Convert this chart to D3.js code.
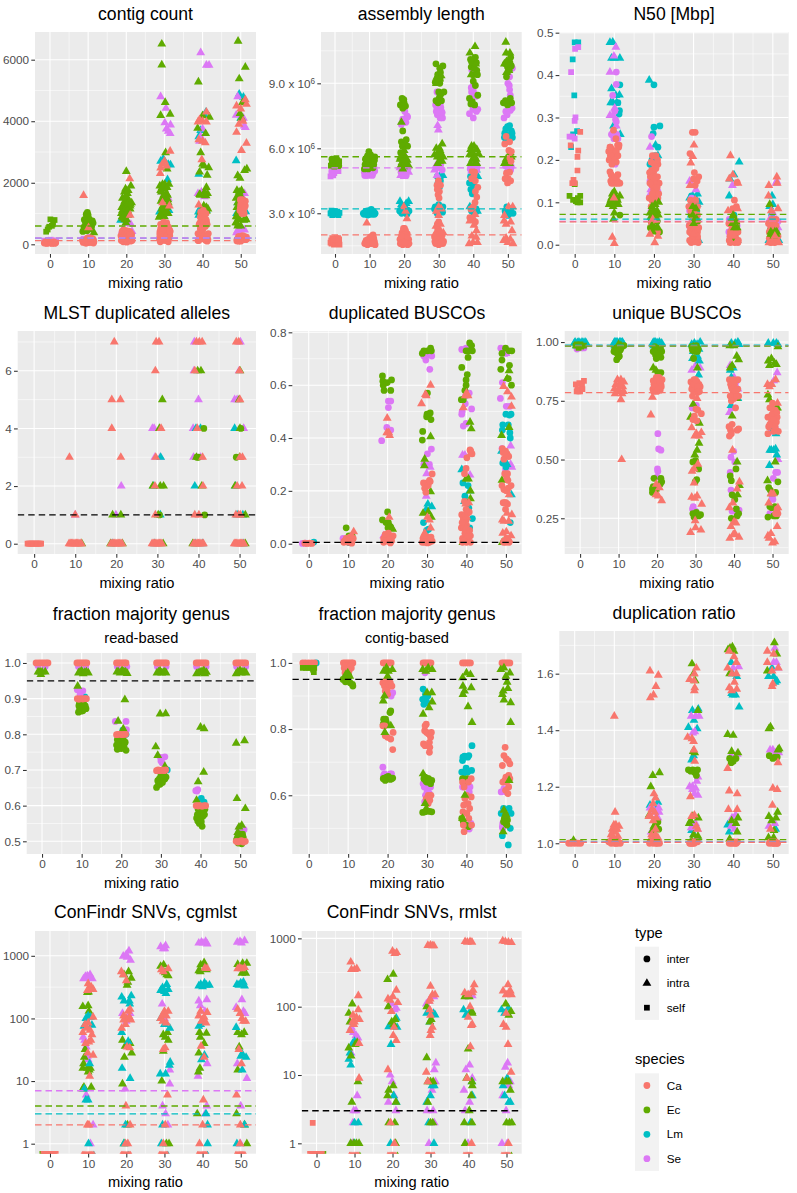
<!DOCTYPE html>
<html><head><meta charset="utf-8">
<script src="https://cdn.jsdelivr.net/npm/d3@7"></script>
<style>html,body{margin:0;padding:0;background:#fff}svg{display:block}</style>
</head><body><svg id="c" width="797" height="1193"></svg>
<script>
const species=["Ca","Ec","Lm","Se"];
const types=["inter","intra","self"];
const mixingTicks=[0,10,20,30,40,50];
const speciesColor={Ca:"#F8766D",Ec:"#5FAB00",Lm:"#00BFC4",Se:"#DC78F5"};

// ---- contig count
const contig_Lm_intra=[[18.5,780],[21,300],[20,200],[29,2700],[29.7,2780],[31,2600],[31.6,2580],[30.8,2100],[28.7,1050],[30.2,1000],[31.2,1100],[29,250],[39,2280],[38.9,1050],[39.3,1150],[40.9,4300],[40.5,4200],[39,3500],[39.5,3700],[41,1100],[39,950],[48.8,2720],[49.6,4880],[50.7,4780],[48.9,1000],[49.2,1350],[51.3,1060],[50,4100]];
const contig_Se_intra=[[29,4800],[30.4,4420],[30.1,3950],[31.6,3880],[30.5,3750],[31,3680],[31.5,3600],[29.5,1700],[31,1500],[30,1200],[29.2,200],[39.5,6230],[41,5820],[41.7,5820],[40,3750],[39.5,3500],[39.2,3350],[38.8,1650],[39.7,1700],[40.5,1550],[39.2,180],[41,250],[48.8,4200],[49.2,4800],[50.7,4100],[50.9,3850],[51.2,3800],[51,1650],[50.4,1550],[49.2,450],[50.2,480],[51,470],[48.9,380],[21.2,650],[20.5,680],[19,450],[21.5,420]];
const contig_Se_self=[[-1.5,120],[-0.9,100],[-0.5,140],[0.2,150],[0.8,130],[1.6,90],[-1.2,50],[1.2,60],[8.8,180],[10.5,240],[11.5,100]];
const contig_Ec_self=[[-1,410],[-0.2,570],[0.1,810],[1.2,790],[0.5,600],[-0.6,480],[0.8,650]];
const contig_Ec_inter=[[8.6,420],[8.9,560],[9.3,700],[9.6,880],[9.8,1040],[9,800],[9.4,600],[10,950],[10.3,820],[10.5,700],[10.8,620],[11.1,760],[11.3,690],[10.6,500],[9.9,720],[9.1,480],[9.7,440],[10.9,580],[9.5,980],[10.2,640]];
const contig_Ec_intra=[[11.5,380],[20,2370],[21.2,1900],[19.8,1800],[19.5,1700],[20.3,1650],[19,1500],[20.5,1400],[21.4,1350],[19.4,1300],[20,1250],[18.8,1200],[21,1150],[19.7,1100],[19.2,1000],[20.4,950],[18.9,900],[19.6,800],[20.2,1500],[19.9,700],[21,1250],[29.3,6510],[29.3,5830],[30.2,4610],[29,4190],[31.5,4230],[30.3,2980],[30.7,2450],[28.8,1900],[29.5,1950],[30,1800],[29.2,1700],[30.5,1650],[31.2,1950],[30.8,1600],[29.5,1500],[31,1350],[30.6,1200],[29.2,1000],[28.6,880],[30,900],[31,1000],[38.9,5280],[38.7,3770],[40.8,3600],[39.5,2980],[40,2600],[40.4,2550],[41.6,2490],[39.2,2350],[41.2,2250],[41,1850],[39.2,1620],[40.5,1700],[41.3,1650],[40.9,1580],[41.4,1150],[40.3,1250],[39.5,1050],[41,1080],[40,4180],[41.8,4130],[39.8,600],[49.3,6600],[49.6,5380],[51.2,5760],[50.4,4600],[49.8,4250],[50.2,4100],[51.6,2450],[51,2400],[49.2,2230],[49.8,2150],[49,1750],[50.2,1750],[49.4,1550],[50,1450],[48.8,900],[49.5,850],[48.7,700],[51.4,800],[50.8,780],[49.2,600]];
const contig_Ec_more=[[18.7,1000],[19,1100],[19.3,1250],[19.6,1400],[19.9,1550],[20.2,1300],[20.5,1750],[20.8,1400],[21.1,1300],[19.1,850],[19.5,950],[19.9,1150],[20.3,1100],[20.1,800],[29,1750],[29.4,1850],[29.8,1600],[30.1,1950],[30.4,1450],[30.7,1850],[29.1,1400],[29.6,1250],[30,1100],[30.4,1050],[30.9,1450],[29.3,1150],[28.9,950],[40.5,1200],[39.9,1100],[40.1,1000],[40.7,1600],[41,1200],[39.4,1600],[48.8,1500],[49.2,1350],[49.6,1700],[49,1200],[49.3,1050],[49.6,800],[48.9,700],[49.2,900],[49.6,1600],[50.1,1550],[50,600],[51.2,850]];
const contig_Ca_intra=[[8.8,1590],[10.1,540],[20.9,2130],[21,950],[31.5,3030],[30,2700],[29.4,2600],[29,2480],[30.6,2550],[28.9,2300],[31.3,1250],[29.5,1350],[41,4300],[39.2,4050],[40,4000],[38.8,3980],[41,3980],[39,3400],[40,3350],[40.7,3300],[39.8,2750],[39,1280],[50,4400],[48.9,4500],[51.2,4700],[51.5,4550],[49.5,3900],[48.9,3640],[50.2,3050],[51.5,3290],[50.6,4000]];
const contig_Ca_inter=[[-1.3,60],[-0.8,30],[-0.3,70],[0.2,40],[0.7,60],[1.2,30],[0,90],[-1,90],[8.7,60],[9.1,130],[9.4,70],[9.8,200],[10.1,110],[10.4,60],[10.8,130],[11.1,60],[11.5,90],[9.6,40],[10.6,210],[11.3,170],[18.7,120],[19,300],[19.3,470],[19.6,100],[19.9,230],[20.2,380],[20.5,130],[20.8,250],[21.1,100],[21.4,320],[19.2,180],[20.1,70],[20.6,430],[21.3,180],[28.9,80],[29.2,300],[29.5,560],[29.8,720],[30.1,180],[30.4,420],[30.7,620],[31,80],[31.3,350],[29,500],[29.6,130],[30.2,680],[30.6,230],[31.4,450],[28.8,400],[29.9,350],[38.8,120],[39.1,300],[39.4,500],[39.7,780],[40,180],[40.3,900],[40.6,650],[40.9,1000],[41.2,100],[41.5,350],[39.3,700],[40.1,520],[40.5,830],[40.8,250],[39.8,950],[41,750],[49,150],[49.4,250],[50,100],[50.3,1000],[50.6,1150],[50.9,1300],[50.1,1400],[50.5,1450],[51.2,1250],[50.2,1250],[49.9,1200],[50.8,1050],[51,190],[51.5,230],[50.5,280],[49.6,120]];
const contig_Ca_more=[[-1,40],[-.5,50],[.5,30],[1,80],[1.5,50],[-1.5,40],[8.9,90],[9.3,40],[9.7,120],[10,60],[10.3,170],[10.7,90],[11,190],[11.4,40],[8.5,130],[18.6,280],[18.9,420],[19.2,80],[19.5,350],[19.8,450],[20.1,300],[20.4,420],[20.7,180],[21,400],[21.3,260],[19,220],[19.7,180],[20.3,230],[20.9,320],[21.5,120],[28.7,200],[29,650],[29.3,420],[29.6,300],[29.9,550],[30.2,420],[30.5,320],[30.8,480],[31.1,550],[31.4,280],[29.1,180],[29.4,620],[29.7,470],[30,250],[30.3,120],[30.6,700],[31.2,200],[31.5,420],[28.8,320],[38.8,350],[39.1,650],[39.4,880],[39.7,600],[40,850],[40.3,700],[40.6,980],[40.9,800],[41.2,650],[39.3,200],[39.6,380],[40,450],[40.4,280],[40.8,130],[41.2,260],[39,120],[39.5,1050],[40.2,1100],[40.7,580],[41.4,150],[49.8,1100],[50,1300],[50.3,1350],[50.6,1250],[50.9,1000],[51.2,1400],[49.9,1450],[50.4,1100],[51,1200],[49.2,180],[49.7,250],[50.1,210],[50.5,170],[50.9,260],[51.3,150],[49,110],[50,130],[51.5,170],[49.4,100]];
const contigLayers=[["Lm","intra",contig_Lm_intra],["Se","intra",contig_Se_intra],["Se","self",contig_Se_self],["Ec","self",contig_Ec_self],["Ec","inter",contig_Ec_inter],["Ec","intra",contig_Ec_intra],["Ec","intra",contig_Ec_more],["Ca","inter",contig_Ca_inter],["Ca","inter",contig_Ca_more],["Ca","intra",contig_Ca_intra]];
const contigLines=[["Lm",200],["Se",205],["Ec",595],["Ca",119]];

// ---- assembly length (Mbp)
const asm_Lm_self=[[-1.3,3.0],[-0.8,2.92],[-0.3,3.1],[0.2,2.95],[0.7,3.08],[1.3,3.02],[-1,3.12],[0,3],[-1.1,3],[-.5,2.95],[.5,3],[1,2.92]];
const asm_Lm_inter=[[8.2,3.0],[8.7,3.05],[9.2,2.95],[9.7,3.12],[10.2,3.02],[10.7,2.95],[11.2,3.08],[11.6,3],[9.5,2.92],[10.5,3.18],[18.7,3.1],[19.3,3],[20.1,3.2],[20.8,2.95],[21.4,3.1],[28.8,3.2],[29.4,3.05],[30,3.4],[30.6,3.1],[31.2,3.3],[29.7,2.95],[29.8,4.4],[30.2,4.2],[30.5,4.5],[29.6,4.7],[38.9,4.4],[39.3,4.1],[39.7,3.9],[40.1,4.3],[39.2,4.7],[40.2,3.0],[41,3.1],[49,6.5],[49.4,6.9],[49.9,7],[50.5,7.05],[51,6.8],[51.3,6.5],[50.3,6.4],[49.5,6.3],[49.2,3.1],[50,2.9],[50.8,3.2],[51.5,3],[49.7,3.3],[50.4,3.15],[8.4,2.95],[9,3.1],[9.9,2.95],[10.4,3.1],[10.9,3.05],[11.4,2.95],[19,3.15],[19.7,3.05],[20.5,3.05],[21,3.15],[29,3.3],[29.6,3.2],[30.3,3.15],[30.9,3.2],[31.1,3.05],[39.5,3.1],[40.5,3],[40.8,3.2],[49.4,3],[50,3.15],[50.6,3],[49.1,6.7],[49.7,6.6],[50.7,6.6],[51.2,6.7]];
const asm_Lm_intra=[[18.8,3.55],[19.2,3.4],[20.3,3.3],[20.6,3.45],[21.3,3.55],[30.2,4.7],[31.2,4.75],[39,3.3],[41.2,3.1],[40.9,5.0],[41.3,4.7]];
const asm_Se_self=[[-1.3,4.7],[-0.7,5.0],[-0.2,4.85],[0.5,5.1],[1,4.95],[-1,4.85],[-1,5],[-.5,4.75],[.2,5],[.8,5.05]];
const asm_Se_inter=[[8.5,4.9],[9,4.75],[9.5,5.0],[10,4.8],[10.5,5.1],[11,4.85],[11.5,4.95],[9.2,5.1],[20.2,7.7],[20.8,7.5],[19.6,7.35],[20.5,7.2],[21,7.45],[19.2,7.1],[19.8,5.7],[20.6,5.4],[29.5,8.6],[29.1,8],[29.5,7.85],[29.9,7.7],[30.3,7.9],[30.7,7.75],[31,7.65],[31.1,7.4],[29.6,7.55],[30.5,8.1],[29.8,5.2],[30.4,5.1],[31,5],[39.6,9.6],[40.6,9.5],[39.4,8.8],[40,8.65],[40.3,8.5],[40.8,8.4],[39.9,7.8],[41.3,7.8],[40.9,7.7],[38.9,7.6],[40,7.4],[39.3,5.15],[40.2,5.2],[41,5],[50.9,9.8],[51.3,9.7],[50.2,9.6],[50.5,9.3],[50,9],[50.5,8.7],[50.7,8.45],[51.2,7.85],[50.7,7.75],[49.4,7.7],[49.8,7.55],[48.9,7.4],[50,5.15],[50.8,5],[8.8,5],[9.3,4.85],[9.8,5.05],[10.3,4.95],[10.8,5],[11.3,5.1],[8.6,4.75],[9.7,4.75],[10.8,4.75],[19.1,4.9],[19.5,5.1],[20.2,5.05],[20.6,4.75],[21.2,5.1],[19.9,4.85],[29.3,5.1],[30.6,5.25],[39.1,5.05],[39.7,5.1],[40.7,5.15],[41.1,5.2],[49.3,5.2],[50.4,5.2],[51,5.15],[29.3,7.7],[29.8,8.05],[30.1,7.6],[30.6,7.9],[30.4,7.4],[39.5,8.6],[40,8.9],[49.9,9.4],[50.4,8.9]];
const asm_Se_intra=[[19,4.75],[19.6,5],[20.2,4.85],[20.8,5.1],[21.3,4.9],[20,4.7],[18.8,5.1],[29.7,7.05],[29.9,6.85],[28.8,5],[29.5,4.75],[29.2,5.2],[39.5,4.95],[50,5.05]];
const asm_Ec_self=[[-1.2,5.2],[-0.7,5.45],[-0.2,5.15],[0.4,5.55],[0.9,5.3],[1.2,5.4],[-0.9,5.3],[0.1,5.3]];
const asm_Ec_inter=[[8.5,5.05],[9,5.3],[9.4,5.65],[9.8,5.85],[10.2,5.2],[10.6,5.5],[11,5.1],[11.5,5.6],[8.8,5.5],[9.6,5.05],[10.4,5.3],[11.2,5.4],[19.4,8.3],[20,8.1],[18.9,8],[19.6,7.85],[20.4,7.95],[19.2,6.3],[20.2,6.2],[19.6,6.8],[20.6,6.4],[21,6.1],[29.2,9.9],[31.2,9.8],[30.3,9.7],[29.7,9.4],[30.4,9.2],[29,9.05],[30,8.6],[31.5,8.6],[30.8,8.2],[30.2,8.35],[29.2,8.2],[30.4,5.5],[39.2,10.1],[39.8,9.9],[40.9,9.95],[41,9.6],[39.4,9.75],[41.2,9.4],[40,9.1],[40.6,8.9],[38.9,8.3],[39.7,8.15],[40.4,8.0],[41.3,8.45],[39.3,8.05],[50.2,10.05],[49.3,9.9],[49.9,9.75],[50.6,9.95],[51,9.8],[49.6,9.3],[48.7,8.1],[49.3,8.2],[50.7,8.3],[51.1,8.1],[49.9,8],[-.9,5.5],[-.3,5.4],[.2,5.25],[.7,5.45],[1.1,5.2],[8.7,5.25],[9.1,5.55],[9.5,5.25],[9.9,5.5],[10.3,5.7],[10.7,5.2],[11.2,5.25],[11.4,5.45],[19,5.8],[19.5,6.1],[19.6,8.15],[19.9,8.25],[30,9.4],[30.5,9.5],[29.5,9.2],[30.3,9],[30.6,8.5],[29.8,8.1],[39.5,10],[40.3,9.7],[40.6,10.2],[39.9,9.4],[50,9.9],[50.4,9.6],[49.7,9.9],[50.8,10.2],[49.5,8.1]];
const asm_Ec_intra=[[19.2,7.2],[20,5.9],[19.6,5.5],[19,5.2],[20.6,5.3],[21.3,5.2],[20,5.7],[18.8,5.5],[30,9.3],[30.7,9.35],[29.3,9.0],[30.4,5.9],[31,6.2],[29.3,6],[28.8,5.7],[30.2,5.4],[31.3,5.6],[29.7,5.3],[39,10.4],[40.5,10.7],[49.4,10.9],[49.5,10.4],[50.6,10.4],[49,9.9],[49.6,9.5],[39.5,6.1],[40.2,6.1],[41,5.95],[38.9,5.7],[39.8,5.5],[40.8,5.5],[41.5,5.75],[39.2,5.3],[40.5,5.3],[39.4,9.4],[49,5.3],[50.7,5.8],[50,5.4],[19,5.6],[19.4,5.35],[19.9,5.15],[20.4,5.55],[20.9,5.45],[19.6,5.05],[20.2,5.35],[29.8,5.8],[30.2,6],[30.7,5.7],[31,5.4],[29.6,5.6],[39.2,5.95],[39.9,5.8],[40.4,5.6],[41,5.3],[49.5,5.5],[50.5,5.3],[51,5.6],[29.5,9.3],[30.3,9.2],[39.9,10.1],[40.7,9.9],[49.6,10],[50.3,9.6]];
const asm_Ca_self=[[-1.3,1.65],[-0.8,1.85],[-0.3,1.55],[0.2,1.75],[0.7,1.6],[1.2,1.8],[-1,1.6],[0.4,1.85],[1.3,1.55],[-1.1,1.75],[-.5,1.7],[0,1.6],[.5,1.75],[1,1.65],[-.2,1.8],[.9,1.85]];
const asm_Ca_inter=[[8.6,1.6],[9,1.75],[9.4,1.55],[9.8,1.7],[10.2,1.9],[10.6,1.6],[11,2],[11.4,1.7],[11.6,1.55],[10.8,1.8],[18.9,1.6],[19.3,1.85],[19.7,2.15],[20.1,2.3],[20.5,1.65],[20.9,2.05],[21.3,1.8],[19.6,1.55],[20.3,1.95],[21,1.55],[28.9,1.7],[29.3,2],[29.7,2.3],[30,1.55],[30.4,2.05],[30.8,1.85],[31.2,1.6],[30,2.6],[29.9,4.5],[29.5,4.3],[30.2,4.0],[29.8,3.85],[30.1,3.7],[29.6,4.1],[30.5,4.3],[39.7,4.95],[40.2,4.75],[40.6,4.5],[39.5,4.6],[40.4,4.9],[41.3,4.2],[40.6,4.0],[41,3.75],[40.5,3.5],[40,3.3],[39.3,3.2],[49.5,6.55],[50.5,6.3],[49.1,6.2],[50.3,5.9],[51,5.85],[50.6,5.55],[50.9,5.4],[49.6,4.85],[49.2,4.6],[50.1,4.6],[50.8,4.5],[49.9,4.4],[50.5,4.9],[39,2.8],[40,2.7],[40.6,2.6],[8.8,1.65],[9.2,1.6],[9.6,1.8],[10,1.6],[10.4,1.8],[10.8,1.65],[11.2,1.85],[10.1,1.75],[10.7,1.95],[11,1.6],[18.8,1.8],[19.1,1.6],[19.4,2.1],[19.8,1.8],[20,2],[20.4,2.2],[20.7,1.75],[21,1.8],[21.4,1.6],[19.5,1.7],[20.2,1.65],[20.8,1.95],[19.2,1.95],[19.8,2.3],[28.8,1.9],[29.1,1.6],[29.5,1.9],[29.8,2.1],[30.2,1.7],[30.6,2.1],[31,2],[31.4,1.7],[29.4,1.65],[30,2.25],[30.4,1.6],[29.6,2.5]];
const asm_Ca_intra=[[9.2,2.55],[19.9,3.3],[20.4,3.1],[20.8,2.75],[30,3.3],[30.7,3.2],[29.3,3.1],[30,2.9],[29.2,2.4],[30.5,2.5],[29,2.05],[30.8,1.7],[31.3,2.1],[39,2.65],[40.2,2.45],[40.9,2.2],[39.6,1.95],[40.8,1.9],[38.8,1.6],[39.9,1.65],[41.2,1.65],[40.5,2.95],[50.2,3.3],[51.4,3.3],[49,2.9],[48.9,2.65],[50.8,2.6],[49.5,2.5],[51.2,2.2],[48.8,1.75],[49.5,1.85],[50,1.65],[50.7,1.8],[51.5,1.6]];
const asmLayers=[["Lm","self",asm_Lm_self],["Lm","inter",asm_Lm_inter],["Lm","intra",asm_Lm_intra],["Se","self",asm_Se_self],["Se","inter",asm_Se_inter],["Se","intra",asm_Se_intra],["Ec","self",asm_Ec_self],["Ec","inter",asm_Ec_inter],["Ec","intra",asm_Ec_intra],["Ca","self",asm_Ca_self],["Ca","inter",asm_Ca_inter],["Ca","intra",asm_Ca_intra]];
const asmLines=[["Ec",5.61],["Se",5.1],["Lm",3.2],["Ca",2.0]];

// ---- N50
const n50_Lm_self=[[0,.477],[.9,.477],[-.5,.437],[-.1,.352],[.6,.268],[-.9,.23],[-.4,.26]];
const n50_Se_self=[[.1,.462],[.9,.466],[-.9,.407],[0,.292],[.2,.30],[-1.3,.255],[-.6,.255],[0,.25]];
const n50_Ec_self=[[0,.143],[-1.3,.115],[-.4,.106],[.3,.103],[.7,.10],[1.4,.115],[1.4,.1],[.8,.11]];
const n50_Ca_self=[[1.4,.266],[-1,.234],[.9,.222],[.7,.207],[.7,.175],[-.3,.153],[-.6,.145],[0,.145]];
const n50_Lm_intra=[[8.9,.477],[9.6,.478],[9.3,.44],[10,.44],[11.4,.44],[9.3,.368],[10.4,.352],[11.3,.353],[9.1,.335],[9.7,.335],[10.6,.335],[9.8,.28],[11.5,.26],[18.8,.388],[20.4,.235],[21,.21],[39.2,.155],[41.5,.195],[39,.115],[40.2,.165],[49.8,.115],[50,.095],[49.2,.09],[31,.12],[29.8,.115],[31.4,.1],[30,.11],[30.5,.11],[29,.11],[29.5,.085],[30,.085],[30.9,.095],[29.4,.07],[30.7,.01],[31.3,.01],[41,.01],[51.5,.01],[49,.01]];
const n50_Lm_inter=[[11.4,.377],[10.9,.335],[11.3,.316],[11.2,.308],[20,.377],[21.5,.28],[20,.277],[19.8,.262],[21,.23],[20.3,.21],[19,.19],[19.5,.2],[19.6,.185],[29.5,.115],[30.4,.1],[29,.09],[30.8,.08],[29.7,.07],[40.2,.07],[39.6,.05],[49.7,.07],[50.5,.05]];
const n50_Se_intra=[[10.4,.466],[9.9,.445],[8.9,.407],[10.1,.322],[8.9,.305],[9.7,.305],[10.5,.28],[19,.23],[19.2,.13],[19.1,.12],[19.4,.085],[29,.15],[30.6,.13],[39.8,.14],[39.6,.06],[40.5,.05],[51,.15],[50.8,.145],[50,.075],[49.2,.06],[51.3,.04]];
const n50_Se_inter=[[10.5,.407],[10.5,.378],[9.6,.352],[10.1,.315],[10.3,.295],[10.5,.29],[9.3,.26],[9.9,.25],[10.4,.255],[10.9,.25],[10.2,.19],[19.4,.255],[20.3,.18],[20.5,.15],[21,.125],[19.5,.11],[29.5,.11],[30,.06],[28.9,.045],[39.2,.05],[40,.035],[41,.03],[49.5,.04],[51,.03],[9.4,.26],[9.8,.265],[10.1,.255],[10.6,.26],[19,.15],[19.5,.14],[20,.13],[20.6,.13],[29,.08],[29.5,.07],[38.9,.03],[39.2,.02],[39,.06],[41,.045],[50.5,.06],[51.3,.055]];
const n50_Ec_intra=[[9.1,.105],[9.5,.12],[10,.125],[10.6,.11],[11.4,.115],[8.7,.095],[9.7,.09],[10.4,.095],[11,.095],[10,.075],[9.8,.06],[19.5,.09],[20.3,.095],[21.2,.1],[19,.075],[20,.065],[20.8,.08],[19.7,.03],[21,.04],[29.8,.09],[30.6,.085],[30,.05],[40,.07],[39.6,.06],[41,.04],[40.4,.015],[49.2,.095],[50.5,.03],[49.5,.025],[50.2,.02],[51,.03],[9,.1],[9.3,.11],[9.9,.11],[10.2,.115],[10.8,.105],[19.2,.065],[19.8,.08],[20.3,.07],[20.7,.06],[21.1,.07],[19.5,.045],[20.1,.04],[20.7,.04],[29.8,.07],[30.3,.06],[30.8,.06],[39.8,.05],[40.3,.04],[40.7,.055],[49.5,.03],[50,.025],[50.8,.025]];
const n50_Ec_inter=[[11.4,.07],[20.2,.07],[20.8,.055],[19.3,.055],[19.1,.04],[20,.035],[21.4,.03],[29.4,.07],[29.8,.055],[30.6,.065],[31,.055],[30.2,.045],[40.2,.06],[40.8,.045],[39.7,.035],[40.5,.025],[49.4,.035],[50.1,.02]];
const n50_Ca_intra=[[9.9,.11],[9.5,.018],[10,.003],[20.2,.005],[21,.02],[19.7,.06],[19,.025],[30.1,.235],[29.8,.208],[29.3,.193],[29.1,.14],[30.4,.105],[30,.025],[39.3,.21],[39,.155],[39.9,.165],[38.7,.08],[41.1,.085],[40.3,.02],[41,.01],[39.5,.005],[41.2,.145],[49,.14],[51,.16],[51.1,.145],[48.9,.115],[51.3,.085],[49.6,.08],[50,.05],[50.5,.02],[49,.005],[51.5,.005],[49.9,.005],[30.6,.005]];
const n50_Ca_inter=[[8.6,.22],[8.9,.172],[9.2,.165],[9,.21],[9.6,.2],[10,.22],[10.4,.25],[10.8,.235],[11.1,.23],[11.4,.145],[10.5,.195],[10.9,.165],[9.1,.15],[9.6,.145],[10.2,.145],[10.8,.15],[8.9,.23],[9.4,.225],[9.8,.27],[19.6,.21],[20.5,.21],[21,.19],[19.1,.16],[19.4,.175],[19.9,.17],[20.4,.145],[20.9,.16],[21.3,.145],[19.3,.145],[19.9,.13],[20.6,.125],[18.8,.11],[19.5,.105],[20.1,.11],[21,.11],[29.1,.215],[30.2,.17],[30,.155],[31.3,.16],[30.4,.14],[30.9,.15],[29.2,.105],[29.8,.095],[30.5,.105],[31,.09],[29,.03],[29.7,.015],[30.2,.01],[31,.015],[29.4,.005],[31.2,.005],[30.5,.03],[29.7,.265],[30.4,.265],[41,.147],[40.3,.105],[40.8,.09],[39.9,.085],[39.2,.02],[39.7,.04],[40.3,.03],[40.7,.015],[41.2,.03],[49.5,.04],[50.3,.055],[50.8,.06],[49.7,.025],[51,.015],[8.7,.2],[9,.23],[9.4,.19],[9.8,.21],[10.2,.2],[10.5,.22],[10.9,.21],[11.2,.235],[9.3,.145],[9.9,.15],[10.5,.145],[11,.145],[9.5,.16],[10.2,.16],[18.9,.17],[19.3,.195],[19.7,.16],[20.1,.19],[20.5,.18],[20.9,.2],[19.5,.14],[20,.15],[20.4,.16],[20.8,.135],[19,.145],[19.6,.12],[21.2,.12],[19.3,.09],[20,.07],[20.6,.06],[19.4,.05],[20.9,.03],[28.8,.09],[29.3,.08],[29.8,.06],[30.1,.08],[30.5,.06],[31,.07],[28.9,.045],[29.3,.05],[29.7,.03],[30.1,.035],[30.5,.04],[31,.03],[29,.01],[29.5,.025],[30,.02],[30.5,.01],[31,.02],[31.3,.04],[38.9,.05],[39.3,.03],[39.7,.01],[40.1,.015],[40.5,.045],[40.9,.03],[41.3,.01],[39,.01],[39.5,.02],[39.9,.05],[40.4,.005],[40.8,.055],[41.2,.005],[39.3,.005],[48.9,.05],[49.3,.03],[49.7,.06],[50.1,.035],[50.5,.04],[50.9,.01],[51.3,.02],[49.1,.015],[49.5,.005],[50,.015],[50.4,.005],[50.8,.045],[49.1,.03]];
const n50Layers=[["Lm","self",n50_Lm_self],["Se","self",n50_Se_self],["Ec","self",n50_Ec_self],["Ca","self",n50_Ca_self],["Lm","inter",n50_Lm_inter],["Lm","intra",n50_Lm_intra],["Se","inter",n50_Se_inter],["Se","intra",n50_Se_intra],["Ec","inter",n50_Ec_inter],["Ca","inter",n50_Ca_inter],["Ec","intra",n50_Ec_intra],["Ca","intra",n50_Ca_intra]];
const n50Lines=[["Se",.055],["Ec",.0715],["Lm",.0605],["Ca",.054]];

// ---- MLST duplicated alleles
const mlst_Lm_intra=[[29,2],[39.1,2],[39.4,4],[40.5,4],[50.8,1],[48.8,4],[49.4,1],[30.8,3],[30.7,1],[49,2],[39.2,0],[50.9,0],[19,0],[29.3,0],[41,0]];
const mlst_Se_intra=[[10,1],[19.9,1],[21.2,2],[28.8,4],[29.2,4],[29.4,3],[30.7,3],[38.8,3],[38.7,4],[38.9,6],[39,7],[40,5],[48.8,5],[49.4,5],[50.2,7],[51,4],[40.5,3],[49.9,6]];
const mlst_Ec_intra=[[19.1,1],[21.1,1],[28.9,2],[30.5,4],[30.7,2],[31.2,5],[31.5,2],[30.2,1],[39.8,6],[40.6,6],[40.8,2],[39.5,3],[49.9,5],[50.1,6],[50.1,4],[48.9,2],[51.4,1],[50,3]];
const mlst_Ec_inter=[[40,3],[39.6,3],[41.3,4],[41.5,1],[49.2,3],[50.3,4],[30.5,1]];
const mlst_Ca_intra=[[8.6,3],[10,1],[19.5,7],[18.9,5],[21,5],[18.9,4],[21.1,3],[29.7,7],[30.4,7],[29.5,6],[30.9,4],[29.6,3],[29.4,2],[29.5,1],[39.5,7],[40.2,7],[40.9,7],[39.7,4],[41,3],[41.1,2],[39.1,1],[40.1,1],[39.1,6],[49.2,7],[49.8,7],[50,6],[50.1,5],[50.1,3],[50.7,3],[49.4,2],[50.6,2],[49.1,1],[49.8,1],[50.2,1]];
const mlst_Ca_self=[[-1.6,0],[-1.3,0],[-1,0],[-.7,0],[-.4,0],[-.1,0],[.2,0],[.5,0],[.8,0],[1.1,0],[1.4,0],[1.7,0]];
const mlst_Ca_zero=[[8.5,0],[8.8,0],[9.1,0],[9.4,0],[9.7,0],[10,0],[10.3,0],[10.6,0],[10.9,0],[11.2,0],[11.5,0],[18.7,0],[19,0],[19.3,0],[19.6,0],[19.9,0],[20.2,0],[20.5,0],[20.8,0],[21.1,0],[21.4,0],[28.7,0],[29,0],[29.3,0],[29.6,0],[29.9,0],[30.2,0],[30.5,0],[30.8,0],[31.1,0],[38.8,0],[39.1,0],[39.4,0],[39.7,0],[40,0],[40.3,0],[40.6,0],[40.9,0],[41.2,0],[48.7,0],[49,0],[49.3,0],[49.6,0],[49.9,0],[50.2,0],[50.5,0],[50.8,0],[51.1,0]];
const mlst_Ec_zero=[[18.6,0],[21.5,0],[31.4,0],[38.6,0],[51.4,0],[11.6,0]];
const mlstLayers=[["Se","intra",mlst_Se_intra],["Lm","intra",mlst_Lm_intra],["Ec","intra",mlst_Ec_intra],["Ec","inter",mlst_Ec_inter],["Ec","intra",mlst_Ec_zero],["Ca","intra",mlst_Ca_intra],["Ca","intra",mlst_Ca_zero],["Ca","self",mlst_Ca_self]];
const mlstLines=[["black",1]];

// ---- duplicated BUSCOs
const dup_Lm=[[1.3,.006],[10.3,.004],[29.9,.05],[30.4,.055],[29.1,.08],[39.1,.23],[40.4,.22],[39.6,.18],[40.6,.135],[41.5,.095],[40.8,.06],[50,.49],[51.3,.49],[50.9,.487],[49.2,.45],[49.1,.43],[50.6,.45],[51,.42],[51.1,.4],[49.2,.305],[50,.29],[51.1,.08],[29.6,.03]];
const dup_Lm_tri=[[38.8,.28],[40.8,.2],[39.5,.16],[30.2,.15],[29.8,.13],[31.2,.14],[51.4,.185],[48.9,.35],[50.3,.3]];
const dup_Se=[[-1.6,.001],[-0.8,.002],[8.7,.02],[9.3,.017],[19.8,.44],[20.8,.43],[18.5,.39],[20.2,.54],[20.8,.54],[20.2,.515],[29.7,.695],[30.6,.715],[31.2,.71],[30.7,.66],[29.2,.71],[31,.72],[31.1,.358],[30.1,.34],[29.2,.3],[30.6,.3],[38.8,.735],[39.9,.74],[38.9,.5],[38.8,.49],[39.9,.455],[39.2,.445],[41.3,.51],[39.7,.53],[40.7,.57],[39.8,.56],[48.7,.74],[49.3,.73],[50,.72],[48.6,.55],[49.1,.61],[50.1,.52],[51,.52],[49.9,.28],[49,.36]];
const dup_Se_tri=[[19,.03],[29.9,.265],[29.8,.18],[30.8,.29],[39,.335],[39.6,.335],[40.9,.26],[51.2,.37],[51.5,.29],[49.8,.33],[50,.72],[51.2,.3]];
const dup_Ec=[[9.5,.06],[11,.03],[10.2,.03],[18.7,.09],[19.6,.08],[20,.12],[20.2,.08],[20.1,.06],[20.7,.065],[18.8,.615],[18.7,.635],[19.1,.58],[19.9,.61],[21,.62],[20.8,.58],[18.9,.6],[28.8,.72],[29.2,.73],[30.1,.73],[30.9,.74],[31.1,.73],[30.1,.57],[30,.49],[30.5,.49],[31,.47],[30.8,.495],[28.9,.425],[28.8,.392],[29.9,.48],[38.8,.667],[39.9,.62],[40.2,.64],[39.6,.58],[39.9,.6],[38.7,.545],[39.2,.545],[40.4,.705],[39.9,.73],[40.8,.76],[41.3,.75],[41.5,.73],[40.5,.73],[49,.695],[48.7,.66],[49,.72],[49.9,.74],[50.8,.73],[51.5,.73],[50.9,.675],[50.6,.625],[51.4,.6]];
const dup_Ec_tri=[[30.9,.405],[29.4,.32],[29.3,.295],[30.9,.197],[29,.115],[30.3,.12],[31.1,.1],[40.5,.245],[39.9,.245],[41,.2],[41,.17],[40.9,.46],[41.2,.435],[48.9,.41],[50.8,.44],[50.8,.655],[50.3,.625],[21,.06],[21.3,.055],[49,.24],[39.1,.005],[49.1,.005]];
const dup_Ca=[[-1,.002],[-0.4,.001],[0.2,.002],[.8,.001],[8.9,.005],[9.6,.01],[10.4,.012],[10.9,.002],[11.3,.02],[19,.005],[19.5,.02],[19.9,.03],[20.3,.015],[20.7,.003],[21.1,.025],[28.8,.005],[29.3,.01],[29.7,.025],[30.1,.003],[30.5,.015],[31,.01],[30,.23],[29.1,.23],[29.4,.21],[30.6,.24],[30.3,.22],[30.8,.235],[29.7,.195],[31.3,.264],[40.9,.355],[41.4,.34],[41.1,.35],[40.1,.325],[39.9,.285],[39.5,.265],[39.5,.16],[39.9,.13],[38.8,.11],[39.2,.1],[39.9,.09],[38.7,.06],[39.3,.06],[40.2,.04],[39.9,.02],[40.5,.01],[41,.03],[39,.02],[49.1,.36],[49.5,.32],[50.3,.34],[50.7,.33],[49.7,.265],[50.4,.265],[50.5,.24],[49,.22],[49.5,.205],[50.6,.21],[51.3,.22],[50,.155],[49.3,.155],[50.4,.15],[49.9,.13],[49.4,.005],[50.8,.005],[9,.01],[9.5,.02],[10,.005],[10.5,.025],[11,.015],[19,.02],[19.4,.035],[19.8,.01],[20.2,.04],[20.6,.02],[21,.01],[21.4,.03],[29,.02],[29.4,.005],[29.8,.015],[30.2,.025],[30.6,.005],[31,.025],[31.3,.01],[39.2,.01],[39.6,.04],[40,.07],[40.4,.03],[40.8,.05],[39.2,.09],[39.7,.11],[40.3,.115],[38.9,.08],[40.7,.12],[39,.005],[40,.005],[41,.005],[49.5,.01],[50,.005],[50.4,.02],[49.7,.155],[50.1,.2],[50.2,.25],[50,.34],[49.3,.345],[49.9,.35]];
const dup_Ca_tri=[[9.9,.01],[11.4,.045],[10.9,.03],[20.4,.1],[19.9,.475],[19.8,.42],[20.3,.42],[20.5,.41],[30.9,.6],[29.8,.56],[28.6,.53],[29.6,.565],[29.4,.04],[30.1,.1],[30.6,.09],[29.2,.03],[30.9,.06],[40,.57],[39.7,.56],[39.2,.515],[40.4,.56],[41,.34],[39.8,.15],[40.6,.155],[40.1,.1],[39.9,.06],[49.1,.09],[49.5,.085],[50.7,.085],[51.5,.11],[50.3,.115],[51.4,.555],[50.4,.575],[49.4,.595],[51.4,.52],[50.8,.185],[49.2,.04],[50.1,.045],[51.3,.03],[49.9,.02],[50.9,.012]];
const dupLayers=[["Se","inter",dup_Se],["Se","intra",dup_Se_tri],["Lm","inter",dup_Lm],["Lm","intra",dup_Lm_tri],["Ec","inter",dup_Ec],["Ec","intra",dup_Ec_tri],["Ca","inter",dup_Ca],["Ca","intra",dup_Ca_tri]];
const dupLines=[["black",.005]];

// ---- unique BUSCOs
const uniq_Lm=[[-1.5,.995],[-.7,.998],[0,.995],[.8,.998],[1.6,.995],[-1,.985],[.5,.985],[8.8,.995],[9.3,1],[9.8,.998],[10.3,1],[10.8,.995],[11.3,.99],[9,.985],[10.5,.985],[18.9,.995],[19.5,1],[20,.998],[20.6,1],[21.2,.995],[19.1,.985],[29,.99],[29.7,.995],[30.4,.99],[31.2,1],[30,.96],[30.5,.94],[31,.92],[29.2,.93],[30.8,.86],[39.3,.995],[40.3,.995],[41,1],[41.3,.99],[39,.88],[39.3,.85],[39.8,.89],[41,.76],[39.2,.73],[50.2,.995],[48.9,.995],[51.4,.99],[51,.995],[49.7,.54],[50.3,.54],[50.8,.545],[51.1,.52],[49.2,.475],[49.3,.54],[50.3,.63],[50.9,.61],[-1.3,1],[-.3,1],[.5,1],[1.3,1],[9,1],[9.6,1],[10.1,.99],[10.6,1],[11,1],[19.2,1],[19.8,.99],[20.3,.99],[20.9,.99],[29.4,.96],[30.2,.97],[30.9,.97],[29.8,.93]];
const uniq_Se=[[-.8,.97],[.3,.975],[1,.975],[9.3,.99],[10.3,.97],[20.2,.61],[20.4,.545],[21,.54],[20.1,.46],[20.2,.45],[20,.425],[29.2,.29],[29.4,.3],[30,.28],[29.1,.72],[30.6,.66],[30.2,.73],[39,.445],[39.9,.535],[39.2,.51],[40.2,.49],[39.2,.37],[39.5,.28],[40.5,.28],[41.3,.285],[40.5,.83],[39.3,.72],[40.2,.72],[49.9,.34],[50.8,.445],[51.3,.445],[50.2,.42],[49.7,.62],[50.5,.65],[50.1,.33],[49.3,.27]];
const uniq_Se_tri=[[29,.88],[30,.9],[31.2,.89],[39,.9],[40,.85],[38.8,.7],[41,.8],[51.2,.87],[50.3,.835],[51.4,.5],[50.7,.64],[49.6,.62]];
const uniq_Ec_self=[[-1.2,.985],[-.4,.975],[.3,.98],[1,.985],[-.9,.99],[.1,.99]];
const uniq_Ec=[[8.8,.96],[9.3,.955],[9.8,.97],[10.4,.965],[10.9,.98],[11.4,.985],[9.9,.935],[10.2,.94],[9.5,.925],[19,.96],[19.6,.945],[20,.97],[20.7,.95],[21,.935],[21.2,.96],[19.4,.98],[20.2,.87],[21,.87],[18.8,.375],[18.8,.36],[19.2,.42],[21,.42],[20.8,.395],[21.2,.405],[19,.385],[19.8,.37],[29,.98],[29.8,.96],[30.2,.985],[30.7,.97],[29.5,.93],[29.9,.26],[29.3,.27],[30.2,.275],[30.8,.26],[31.3,.265],[29.6,.255],[30,.495],[29.3,.49],[30.8,.46],[30.3,.415],[29.9,.405],[39,.43],[39.3,.41],[40.5,.46],[39.5,.35],[40.2,.33],[40.8,.26],[41.2,.27],[39.3,.25],[40.6,.29],[49,.38],[49.4,.37],[50.6,.3],[50.3,.26],[49.3,.3],[49.8,.295],[51.4,.405],[48.8,.255],[50.8,.36],[51,.26],[9,.97],[9.5,.975],[10,.96],[10.5,.97],[19.3,.96],[19.8,.93],[20.3,.95],[20.9,.975],[29.2,.965],[30,.98],[30.5,.96]];
const uniq_Ec_tri=[[10,.99],[10.6,.985],[19,.89],[19.7,.88],[30.9,.57],[30.4,.54],[29.8,.52],[29.4,.735],[31,.655],[28.7,.68],[30.5,.89],[29.4,.98],[40,.985],[38.9,.985],[40.7,.94],[41.2,.925],[39.5,.9],[39,.89],[40.6,.76],[39.5,.685],[40.8,.49],[41.4,.39],[40.9,.35],[48.9,.92],[49.7,.93],[49.2,.9],[50.5,.91],[51,.905],[48.8,.775],[49.2,.755],[51.3,.72],[51,.72],[48.7,.41],[49.7,.355],[50.7,.49],[51.4,.98]];
const uniq_Ca_self=[[-1.1,.82],[-.7,.8],[-.2,.825],[.5,.82],[1,.835],[-.9,.79],[0,.79],[-.4,.79],[.6,.8]];
const uniq_Ca=[[18.9,.8],[19.5,.83],[20,.79],[20.5,.85],[21,.82],[21.3,.84],[19.2,.82],[19.8,.85],[20.3,.82],[20.8,.795],[19,.835],[28.8,.83],[29.2,.81],[29.6,.84],[30,.8],[30.4,.83],[30.9,.82],[31.2,.81],[29.4,.795],[30.5,.785],[29.2,.77],[30.6,.71],[30.1,.715],[29.7,.685],[29.3,.67],[30.3,.665],[31.5,.695],[38.8,.84],[39.3,.81],[39.7,.78],[40.1,.82],[40.6,.8],[41,.84],[41.2,.77],[40,.76],[39,.77],[39.3,.75],[40.4,.72],[38.7,.64],[39.1,.625],[39.5,.65],[41.2,.63],[40.8,.625],[38.8,.6],[39.3,.61],[48.8,.68],[49.3,.72],[50,.74],[50.7,.71],[51.2,.68],[49,.64],[49.7,.66],[50.3,.62],[51,.66],[51.5,.62],[48.8,.61],[50.2,.7],[49.5,.68],[51.4,.27],[50.8,.27],[51.2,.29],[19.1,.79],[19.5,.81],[19.9,.84],[20.3,.8],[20.7,.83],[21.1,.81],[29,.8],[29.5,.82],[30,.84],[30.5,.81],[31,.79],[39.1,.82],[39.5,.8],[39.9,.84],[40.3,.79],[40.7,.77],[41,.8],[49.3,.65],[49.8,.69],[50.2,.67],[50.7,.64],[51.1,.7],[49.7,.72]];
const uniq_Ca_tri=[[8.9,.8],[9.3,.82],[9.7,.84],[10.2,.79],[10.6,.84],[11.1,.81],[11.4,.83],[9.1,.78],[9.9,.8],[10.9,.78],[11.3,.79],[10.2,.82],[10.6,.755],[10.8,.5],[18.8,.765],[18.4,.69],[19.8,.395],[20.6,.38],[19.7,.35],[20.3,.345],[21.2,.325],[29,.635],[30.2,.61],[31.5,.615],[29.8,.6],[30.9,.6],[30.6,.48],[29.6,.46],[29.1,.45],[29.6,.4],[29,.34],[30.4,.345],[29.8,.335],[31.6,.31],[29.9,.24],[30,.21],[31.4,.2],[28.7,.19],[30.4,.76],[39.6,.54],[41.4,.405],[40.8,.375],[38.8,.295],[40,.235],[39.7,.315],[39.2,.215],[40.5,.23],[39.8,.18],[38.9,.165],[40.2,.185],[41.3,.17],[49.6,.355],[49,.315],[50.2,.355],[51.4,.295],[49.1,.165],[48.8,.175],[49.6,.185],[50,.145],[50.6,.15],[51.2,.215],[49.2,.81],[48.7,.82],[49.8,.82],[50.8,.84],[51.3,.74]];
const uniqLayers=[["Se","inter",uniq_Se],["Se","intra",uniq_Se_tri],["Lm","intra",uniq_Lm],["Ec","self",uniq_Ec_self],["Ec","inter",uniq_Ec],["Ec","intra",uniq_Ec_tri],["Ca","self",uniq_Ca_self],["Ca","inter",uniq_Ca],["Ca","intra",uniq_Ca_tri]];
const uniqLines=[["Lm",.987],["Se",.984],["Ec",.983],["Ca",.785]];

// ---- fraction majority genus, read-based
const read_Se=[[8.9,.925],[10.3,.922],[9.6,.912],[18.5,.836],[21.2,.836],[21.3,.813],[29.9,.735],[31,.737],[30,.725],[30.3,.72],[38.8,.642],[39.3,.645],[39.1,.641],[49.8,.537],[51,.533],[50.3,.528],[49.7,.535],[-1,.992],[.8,.99],[9.2,.99],[11,.99],[19,.99],[21.4,.99],[29.1,.99],[31.3,.99],[39,.99],[41.4,.99],[49.1,.99],[51.4,.99]];
const read_Lm=[[10.8,.905],[20.4,.812],[21.2,.8],[31.6,.7],[40.2,.62],[9.9,.9],[40.9,.61]];
const read_Ec_tri=[[9,.935],[19.2,.837],[20.5,.815],[20.9,.897],[29.8,.857],[31.2,.858],[28.7,.765],[29.2,.741],[31,.71],[40,.82],[40.9,.816],[39.4,.667],[40.8,.694],[39,.615],[49,.775],[51.1,.782],[49.2,.62],[51.3,.592],[49.7,.54],[50.4,.545],[49.4,.525],[-.5,.975],[.8,.975],[-.3,.968],[9.2,.972],[10,.978],[10.8,.974],[11.7,.972],[19.2,.976],[20.2,.98],[21.5,.971],[20.8,.974],[29,.972],[29.8,.978],[30.6,.974],[31.3,.972],[39,.97],[39.9,.975],[40.8,.98],[41.5,.974],[49,.97],[50,.98],[50.7,.975],[51.5,.972],[-1,.975],[0,.975],[9.6,.975],[10.4,.97],[11.2,.975],[18.9,.975],[19.7,.972],[20.5,.975],[21.1,.975],[29.4,.975],[30.2,.972],[31,.975],[39.4,.972],[40.3,.975],[41.1,.97],[49.4,.975],[50.3,.972],[51.1,.975]];
const read_Ec=[[9.2,.862],[9.5,.872],[9.9,.876],[10.3,.866],[10.7,.873],[11.1,.872],[9.4,.885],[10,.885],[18.8,.77],[19,.758],[19.4,.762],[19.8,.775],[20.2,.77],[20.7,.765],[21.2,.755],[21,.778],[19.5,.785],[20.5,.785],[28.9,.651],[29.4,.66],[29.8,.66],[30.2,.67],[30.5,.68],[31,.675],[31.3,.68],[30,.685],[39,.565],[39.3,.557],[39.7,.55],[40.4,.542],[40.6,.57],[41,.575],[41.1,.59],[39.4,.59],[40,.58],[49.1,.505],[49.5,.495],[50,.505],[50.4,.493],[50.8,.51],[49.7,.515],[50.2,.52],[49.5,.52],[9.3,.88],[9.8,.865],[10.1,.875],[10.5,.885],[10.9,.88],[19.2,.775],[19.6,.77],[20,.76],[20.4,.78],[20.8,.775],[19,.785],[29.2,.67],[29.6,.675],[30,.665],[30.4,.665],[30.8,.685],[39.6,.565],[39.9,.565],[40.2,.555],[40.5,.585],[39.2,.575],[49.3,.51],[49.6,.505],[49.9,.52],[50.2,.5],[50.6,.52]];
const read_Ca=[[-1.5,1],[-.8,1],[-.2,1],[.4,1],[1,1],[1.5,1],[8.8,1],[9.3,1],[9.8,1],[10.3,1],[10.8,1],[11.3,1],[8.9,.9],[9.3,.898],[9.8,.9],[10.3,.899],[10.8,.9],[11.2,.9],[18.8,1],[19.3,1],[19.8,1],[20.3,1],[20.8,1],[21.2,1],[18.8,.799],[19.2,.8],[19.7,.8],[20.2,.799],[20.7,.8],[21.1,.8],[28.9,1],[29.4,1],[29.9,1],[30.4,1],[30.9,1],[31.4,1],[28.9,.698],[29.3,.7],[29.8,.698],[30.3,.7],[30.8,.698],[31.2,.7],[38.9,1],[39.4,1],[39.9,1],[40.4,1],[40.9,1],[41.4,1],[38.9,.6],[39.4,.599],[39.9,.6],[40.4,.598],[40.9,.6],[41.3,.6],[48.9,1],[49.4,1],[49.9,1],[50.4,1],[50.9,1],[51.4,1],[49,.5],[49.4,.498],[49.9,.5],[50.3,.502],[50.8,.498],[51.3,.5]];
const readLayers=[["Lm","inter",read_Lm],["Se","inter",read_Se],["Ec","inter",read_Ec],["Ec","intra",read_Ec_tri],["Ca","inter",read_Ca]];
const readLines=[["black",.95]];

// ---- fraction majority genus, contig-based
const contigfrac_Lm=[[29,.921],[28.9,.89],[29.4,.885],[29.8,.895],[30,.88],[29.2,.875],[29.6,.905],[30.2,.9],[39,.705],[39.1,.715],[39.5,.718],[40.6,.72],[40.3,.715],[41.4,.75],[39.9,.682],[38.8,.67],[39.4,.668],[40.3,.67],[41.3,.675],[48.8,.545],[49.4,.56],[50.8,.56],[51.3,.545],[51.1,.5],[49.1,.478],[50.6,.45],[1.9,1]];
const contigfrac_Se=[[18.8,.685],[19.2,.665],[20.7,.665],[21,.665],[19,.66],[29,.635],[29.3,.625],[30,.61],[30.6,.605],[29.4,.58],[39,.625],[40.7,.61],[40.9,.625],[39.6,.63],[41.1,.515],[40.7,.498],[48.8,.61],[49.5,.62],[50,.61],[49.2,.515],[49.1,.505],[49.7,.51],[21.3,.91],[20.9,.9],[10,.97],[29.5,.97],[29.6,.6],[29.8,.625],[30.3,.62],[30.9,.625],[30,.595],[39.9,.63],[40.3,.625],[49.2,.5],[49.6,.52]];
const contigfrac_Ec=[[8.7,.95],[9.3,.943],[10.5,.94],[11.1,.935],[11.2,.93],[10.2,.96],[9.8,.95],[19,.83],[19.5,.83],[20.6,.85],[20.8,.855],[18.9,.815],[19.6,.815],[19.8,.655],[18.9,.65],[20,.65],[20.7,.648],[21.3,.652],[19.4,.645],[20.2,.657],[29.2,.65],[29.6,.645],[30.1,.65],[30.6,.64],[31.2,.645],[28.9,.548],[29.5,.55],[30,.553],[30.6,.551],[31.2,.55],[39,.65],[39.8,.64],[39.2,.52],[39.9,.51],[40.5,.505],[38.8,.53],[49.8,.53],[50,.515],[49.4,.52],[50.4,.525],[19.2,.652],[19.6,.65],[20.4,.65],[21,.65],[29.5,.655],[29.9,.64],[30.4,.65],[30.9,.635],[39.3,.645],[39.6,.64],[40.2,.65],[49.6,.53],[50.3,.51],[49.9,.54],[19.2,.825],[19.7,.82]];
const contigfrac_Ec_tri=[[29,.845],[30.5,.865],[30,.91],[31.2,.91],[31.3,.882],[20,.96],[39,.955],[40,.97],[41,.965],[39.1,.905],[39.5,.915],[39.1,.93],[40.4,.868],[41.4,.82],[41.2,.925],[48.7,.98],[49.5,.985],[50,.96],[51,.97],[50.3,.942],[50.5,.923],[49.3,.915],[49.1,.905],[49.5,.888],[51.2,.88],[51.2,.82],[18.9,.885],[19.2,.9],[20.8,.81],[19.3,.79],[29,.665],[30.5,.645],[39.6,.6],[39,.53],[49.5,.555],[50.1,.54],[49.3,.49],[50.8,.645],[19,.975],[19.7,.985],[20.2,.975],[21.2,.98],[28.9,.98],[29.7,.975],[30.3,.985],[31.3,.98],[29.8,.56],[29.5,.575],[9.4,.965],[9.9,.97],[10.4,.96]];
const contigfrac_Ec_self=[[-1.5,.985],[-.7,.985],[0,.985],[.7,.985],[1.4,.985],[1.3,.972],[1.1,.98]];
const contigfrac_Ca=[[18.8,.94],[19.2,.93],[19.5,.945],[19.9,.92],[20.3,.935],[20.7,.94],[21.1,.93],[19.4,.915],[20,.905],[18.8,.81],[19.3,.81],[19.4,.78],[20,.775],[20.8,.77],[21.4,.79],[21.3,.738],[29.1,.755],[29.5,.75],[29.8,.815],[29.4,.795],[29.9,.79],[30.4,.785],[30.9,.775],[31.1,.79],[30.6,.76],[30.7,.745],[30.6,.73],[29.5,.81],[29.8,.59],[30.3,.6],[30.7,.585],[31,.6],[30.3,.575],[39,.64],[39.4,.625],[40.5,.64],[41.2,.65],[39.1,.55],[39.6,.59],[40,.6],[40.4,.575],[40.8,.56],[41.2,.595],[39.3,.57],[40.1,.545],[40.6,.53],[41.3,.51],[39.2,.51],[39.4,.49],[49.8,.745],[49.5,.72],[50.1,.71],[50.6,.705],[51,.695],[49.1,.69],[50,.655],[50.7,.66],[49.2,.64],[49.7,.645],[50.2,.64],[50.7,.625],[49.9,.615],[50.5,.605],[51,.65]];
const contigfrac_Ca_top=[[-1.5,1],[-.8,1],[0,1],[.8,1],[1.5,1],[8.8,1],[9.3,1],[9.8,1],[10.3,1],[10.8,1],[11.2,1],[9,.985],[9.6,.98],[10.2,.975],[10.8,.985],[9.4,.99],[10.5,.99],[18.9,1],[19.4,1],[19.9,1],[20.4,1],[20.9,1],[29,1],[29.5,1],[30,1],[30.5,1],[31,1],[39,1],[39.5,1],[40,1],[40.5,1],[41,1],[49,1],[49.5,1],[50,1],[50.5,1],[51,1],[9.2,.97],[10,.98]];
const contigfracLayers=[["Lm","inter",contigfrac_Lm],["Se","inter",contigfrac_Se],["Ca","inter",contigfrac_Ca_top],["Ec","self",contigfrac_Ec_self],["Ec","inter",contigfrac_Ec],["Ca","inter",contigfrac_Ca],["Ec","intra",contigfrac_Ec_tri]];
const contigfracLines=[["black",.95]];

// ---- duplication ratio
const ratio_Lm=[[29.7,1.47],[31.2,1.475],[28.7,1.41],[30.1,1.435],[30.9,1.405],[29.5,1.295],[30,1.31],[19,1.135],[20,1.13],[21,1.145],[20.4,1.12],[40.9,1.59],[40.6,1.525],[39.6,1.53],[39.9,1.525],[39.5,1.64],[41.5,1.482],[39.8,1.6],[38.6,1.065],[39,1.04],[49.8,1.62],[50.2,1.59],[51,1.575],[48.9,1.59],[50.6,1.57],[50.7,1.05],[30,1.03],[29.5,1.045],[31,1.02]];
const ratio_Se=[[29.4,1.45],[30.5,1.45],[31.4,1.45],[30.3,1.395],[29.8,1.39],[31.1,1.235],[30.8,1.22],[29,1.2],[29.7,1.2],[30.5,1.195],[31.1,1.17],[30.5,1.07],[29.9,1.06],[29.4,1.055],[19,1.125],[19.5,1.13],[20.9,1.115],[21.3,1.11],[21,1.09],[19.3,1.04],[40,1.62],[41.4,1.625],[39.7,1.09],[40.6,1.1],[39.5,1.06],[40.3,1.05],[39.5,1.31],[41,1.315],[49.3,1.33],[50,1.33],[50.7,1.32],[51.5,1.32],[50.2,1.64],[50.9,1.64],[51.3,1.62],[50.5,1.69],[49,1.06],[50.5,1.07],[-.8,1],[.3,1],[19.7,1.11],[20.5,1.09],[21.2,1.125],[30,1.055],[30.6,1.06],[31,1.05],[29.7,1.19],[30.2,1.175]];
const ratio_Ec_inter=[[28.7,1.26],[29.3,1.255],[29.8,1.26],[30.3,1.25],[30.7,1.24],[31,1.26],[39.1,1.3],[39.5,1.295],[40,1.29],[40.7,1.3],[39.5,1.285],[49.1,1.31],[50,1.3],[50.6,1.305],[51.1,1.305],[21,1.075],[20.5,1.065],[21.2,1.05],[20.3,1.06]];
const ratio_Ec_tri=[[39.2,1.69],[39.8,1.695],[38.7,1.685],[40.2,1.68],[50.4,1.71],[48.6,1.61],[51,1.67],[38.6,1.385],[40,1.382],[39.6,1.325],[41.2,1.32],[49,1.405],[49.4,1.412],[51.6,1.335],[51.3,1.33],[29.6,1.635],[30,1.6],[30.4,1.575],[39.1,1.6],[31.1,1.47],[29.9,1.325],[30.3,1.32],[29.8,1.095],[29.3,1.08],[31.2,1.09],[28.9,1.07],[30,1.03],[31.1,1.025],[19.2,1.2],[19.7,1.24],[21.4,1.25],[20,1.06],[19.6,1.045],[18.8,1.1],[39.6,1.08],[41.2,1.09],[40.7,1.07],[41,1.04],[49,1.095],[49.7,1.08],[51.2,1.11],[50.8,1.09],[50.3,1.045],[48.9,1.02],[50.2,1.02],[39.1,1.015],[29.5,1.01],[-.3,1.01],[10.8,1.01]];
const ratio_Ca_tri=[[10,1.45],[10.2,1.11],[9.9,1.065],[10.4,1.065],[11.2,1.06],[9.2,1.03],[9.6,1.04],[10.9,1.025],[9.4,1.02],[19,1.61],[21.1,1.595],[20.5,1.555],[19.9,1.525],[19.1,1.515],[20,1.175],[20.4,1.16],[19.8,1.14],[20.6,1.09],[18.7,1.095],[20.4,1.05],[19.4,1.03],[20,1.02],[30.7,1.62],[30.2,1.6],[29,1.58],[30.1,1.575],[30.3,1.55],[30.2,1.54],[28.5,1.375],[30,1.36],[29.6,1.37],[30.1,1.33],[30.3,1.29],[29.2,1.165],[31,1.05],[30.2,1.1],[29.5,1.095],[30.7,1.06],[39,1.68],[40.2,1.66],[40.8,1.64],[38.6,1.62],[39.7,1.6],[40.8,1.6],[40.3,1.57],[39,1.55],[40.9,1.545],[39.6,1.54],[38.6,1.265],[39,1.185],[41,1.175],[38.8,1.12],[41,1.12],[48.6,1.64],[48.6,1.68],[50.2,1.67],[49.8,1.61],[51.4,1.62],[50,1.565],[49.8,1.555],[51.3,1.285],[50,1.195],[51.1,1.19],[49.9,1.135],[49.4,1.05],[9.5,1.05],[10,1.04],[10.5,1.05],[9.4,1.03],[10.7,1.05],[19,1.1],[19.5,1.12],[20.2,1.11],[19.8,1.08],[20.4,1.03],[19,1.01],[21,1.02]];
const ratio_Ca=[[-1.5,1],[-.8,1],[0,1],[.8,1],[1.5,1],[8.6,1.005],[9.2,1],[9.8,1.01],[10.4,1],[11,1.005],[11.5,1],[18.9,1],[19.5,1.005],[20,1.01],[20.5,1],[21,1.005],[21.4,1],[29,1],[29.4,1.005],[29.8,1],[30.2,1],[31,1.005],[39,1],[39.5,1],[40,1],[40.5,1],[41.1,1.005],[49.1,1],[49.8,1],[50.2,1],[50.7,1.005],[51.2,1],[9.4,1.005],[10,1],[10.8,1],[19.2,1.005],[19.8,1],[20.3,1.005],[20.8,1],[29.2,1],[29.6,1],[30,1.005],[30.5,1.005],[39.3,1.005],[39.8,1.005],[40.2,1.005],[40.8,1],[49.4,1.005],[50,1.005],[50.5,1],[51,1]];
const ratioLayers=[["Lm","intra",ratio_Lm],["Se","intra",ratio_Se],["Ec","inter",ratio_Ec_inter],["Ec","intra",ratio_Ec_tri],["Ca","inter",ratio_Ca],["Ca","intra",ratio_Ca_tri]];
const ratioLines=[["Ec",1.013],["Lm",1.005],["Se",1.004],["Ca",1.003]];

// ---- ConFindr SNVs, cgmlst
const cg_Lm=[[9.4,100],[10,110],[10.6,105],[8.9,75],[11,78],[10.4,19],[9.4,5],[10,5],[9,7.5],[10.1,1],[18.8,220],[19.4,190],[20.8,190],[21.3,230],[20.9,170],[18.8,60],[18.9,16],[21,11],[20.5,43],[19.8,2],[19.4,1],[29,280],[29.5,310],[30,270],[30.6,350],[31,290],[30.4,250],[29,100],[30,80],[31.4,70],[28.9,13],[30.3,13],[31.5,20],[31.3,18],[29.5,2],[29.2,1],[39,330],[39.5,350],[40,320],[40.5,370],[41,340],[41.8,340],[39,75],[39.5,80],[39.7,22],[40.5,26],[40.9,3],[41.3,2],[41.3,1],[49,350],[49.5,340],[50,370],[50.7,380],[51,330],[48.8,72],[50,25],[50.4,27],[51.4,24],[50.4,15],[51,2],[49,1]];
const cg_Se=[[8.8,430],[9.3,470],[9.8,480],[10.5,500],[11.1,430],[10.2,450],[8.7,50],[9.1,45],[9.5,35],[9.8,25],[10,22],[9.5,6],[11.3,2],[10.6,1],[19.2,990],[20,1050],[20.7,1200],[21.1,850],[20.2,950],[19,120],[21,120],[20,90],[19.7,7.5],[29,1400],[29.7,1300],[30.3,1450],[30.1,1300],[29.4,170],[30,100],[31.4,15],[31.4,9],[30.3,3],[29.5,4],[30.9,2],[39,1600],[39.7,1650],[40.1,1600],[40.8,1700],[41.2,1550],[39,190],[39.4,160],[41.1,200],[40.6,130],[41.2,19],[38.8,12],[41.1,4],[40.7,3],[49.1,1650],[49.8,1700],[50.2,1600],[51,1750],[50.3,200],[48.8,150],[50.7,130],[51.1,120],[49.1,19],[51.6,11],[50,4],[49.9,1]];
const cg_Ec=[[9.8,260],[10.1,265],[8.6,155],[10,160],[10.2,130],[9.2,32],[9,24],[8.8,19],[8.6,16],[9.8,16],[10.3,15],[10.6,16],[10,14],[8.6,7.5],[8.9,8],[10.8,8],[19.4,500],[20.6,560],[21.3,440],[20.4,380],[20.2,340],[19,45],[21,40],[19.7,36],[21.4,28],[19.5,24],[19,9],[19.4,1],[20.3,2],[29,680],[29.8,720],[30.2,540],[31,480],[30.6,500],[30.8,60],[29.7,55],[30.2,50],[31,45],[29.7,30],[29.3,10],[30.5,1],[31.2,1],[39,580],[39.5,720],[40.4,780],[41,600],[39.4,560],[39.2,60],[39.4,50],[40.4,40],[41,58],[39,28],[39.3,16],[38.9,14],[38.6,3],[49.2,730],[50.5,760],[51.6,760],[50.3,530],[51.3,530],[49.2,60],[50.2,55],[50.9,60],[49.6,35],[49.2,15],[48.9,3],[51,2],[51.6,1]];
const cg_Ca=[[10,360],[10.3,300],[10.8,320],[11.3,290],[9.8,280],[11.3,105],[9.2,80],[10,85],[8.6,60],[9.6,70],[10.5,65],[11,55],[10.2,42],[10.7,45],[9.3,40],[9.9,28],[11.3,26],[10.4,12],[10.2,2],[9.8,2],[18.7,560],[19.2,500],[20,400],[19.3,110],[20,100],[20.5,130],[21,140],[18.8,70],[19.3,95],[20.8,105],[21.2,95],[19.8,80],[20.2,35],[20.9,34],[19.9,4],[21,2],[19.8,1],[20.4,1],[29.2,600],[29.7,560],[31,620],[29,100],[29.6,115],[30,130],[30.5,110],[31,130],[29.6,90],[30.5,85],[30.2,34],[29.7,32],[30.8,6],[30.2,2],[29.7,1],[39,110],[39.5,130],[40,95],[40.4,105],[41.2,125],[39.7,90],[40.9,85],[39.6,36],[40.4,24],[40.2,5],[40,2],[39.2,1],[40.6,640],[41.2,630],[49.2,620],[49.7,650],[50.3,620],[51,650],[49.2,140],[49.8,120],[50.3,100],[50.7,90],[51.3,90],[49.5,32],[50.2,19],[48.9,6],[49.9,2],[49.8,1]];
const cg_Ca_self=[[-1.7,.69],[-1.3,.69],[-.9,.69],[-.5,.69],[-.1,.69],[.3,.69],[.7,.69],[1.1,.69],[1.5,.69]];
const cg_Ca_zero=[[8.5,.64],[8.8,.64],[9.1,.64],[9.4,.64],[9.7,.64],[10,.64],[10.3,.64],[10.6,.64],[10.9,.64],[11.2,.64],[11.5,.64],[18.7,.64],[19,.64],[19.3,.64],[19.6,.64],[19.9,.64],[20.2,.64],[20.5,.64],[20.8,.64],[21.1,.64],[28.7,.64],[29,.64],[29.3,.64],[29.6,.64],[29.9,.64],[30.2,.64],[30.5,.64],[30.8,.64],[38.7,.64],[39,.64],[39.3,.64],[39.6,.64],[39.9,.64],[40.2,.64],[40.5,.64],[40.8,.64],[41.1,.64],[48.7,.64],[49,.64],[49.3,.64],[49.6,.64],[49.9,.64],[50.2,.64],[50.5,.64],[50.8,.64],[51.1,.64]];
const cg_Ec_self=[[-2,.69]];
const cg_Lm_zero=[[11.5,.64],[20.5,.64],[30.9,.64],[41.3,.64]];
const cgLayers=[["Se","intra",cg_Se],["Ec","intra",cg_Ec],["Lm","intra",cg_Lm],["Ca","intra",cg_Ca],["Lm","intra",cg_Lm_zero],["Ec","self",cg_Ec_self],["Ca","self",cg_Ca_self],["Ca","intra",cg_Ca_zero]];
const cgLines=[["Se",7],["Ec",4],["Lm",3],["Ca",2]];

// ---- ConFindr SNVs, rmlst
const rm_Lm=[[8.8,21],[8.5,17],[9,14],[9.5,29],[10,31],[19,51],[19.6,28],[20,55],[21,68],[21.2,50],[29,80],[29.8,60],[30.8,80],[31.2,76],[30.4,7],[31,7],[30,5],[29,4],[29.5,2],[30.9,1],[38.7,90],[39.3,75],[40.4,85],[40.9,8],[41,5],[40.5,2],[48.7,90],[49.5,80],[50.5,95],[49.1,7],[49.5,5],[50.2,9],[50.6,4],[51,4],[10,2],[11,2],[10,1],[19.5,1],[20.3,5],[21,4]];
const rm_Se=[[9.2,50],[9.7,42],[10.4,38],[10.9,35],[9.1,21],[10.7,5],[9.8,3],[9.6,2],[10.4,3],[9.4,1],[19,100],[19.8,110],[20.5,90],[21,95],[19.4,10],[19.9,8],[18.9,4],[20.4,5],[20.9,3],[28.9,110],[29.5,120],[30.9,140],[31.4,15],[31,12],[31.3,8],[30.4,6],[29.1,3],[30.7,3],[31,2],[29.6,1],[39.8,140],[40.4,150],[41,145],[38.8,6],[39.3,12],[40.3,14],[41,9],[40.3,4],[39.1,3],[39.9,1],[49,5],[49.7,13],[50.3,15],[50.6,7],[51,8],[49.9,3],[48.8,1],[50.2,1]];
const rm_Ec=[[8.5,80],[8.8,60],[9.4,110],[8.5,25],[9.1,19],[10.2,28],[10.7,30],[10.9,8],[9.3,4],[9,1],[9.8,1],[10.5,1],[11.2,1],[18.7,250],[20.2,300],[18.9,100],[19.8,60],[20.3,55],[20.7,65],[18.7,5],[19,6],[20.2,7],[20.9,4],[19,2],[20.6,2],[20.8,1],[29,100],[29.8,60],[30.2,65],[29,18],[29.3,8],[30,8],[30.7,8],[29.3,4],[30,2],[30.6,2],[39,140],[40.2,140],[40.9,85],[41,80],[39.9,24],[39.5,9],[40.9,8],[41,7],[40.7,5],[40.2,3],[38.9,2],[40.9,2],[39.1,1],[49.8,110],[50.6,75],[51.2,85],[50,8],[49,8],[50.6,8],[51,6],[50,2],[50.8,2],[51.4,2]];
const rm_Ca=[[9,450],[9.2,350],[10,350],[10.6,360],[11,145],[9.6,75],[11,90],[10,60],[11.3,65],[9.8,55],[10.5,70],[8.8,45],[9.5,60],[11.2,29],[11.2,9],[20,650],[20.6,600],[21.1,620],[18.8,130],[19.4,125],[20.1,140],[21,175],[21.4,115],[19.7,85],[20.4,50],[20.2,38],[21,32],[18.8,12],[19.5,2],[20.5,1],[30,800],[29.3,790],[30.5,780],[30.9,780],[30,200],[29.9,130],[30.5,150],[31.2,150],[29.7,120],[29.8,90],[30,75],[30.5,50],[30.1,45],[29.9,38],[28.9,11],[29.3,8],[39.1,900],[39.7,880],[40.4,900],[40.9,880],[39,160],[39.9,150],[41,160],[41.5,210],[41.2,175],[40.4,100],[39.9,70],[41,55],[40.7,53],[40.5,26],[39.6,9],[40.8,1],[49,920],[49.7,900],[50.5,880],[51.3,870],[49.1,170],[49.9,150],[50.4,210],[51,170],[50.6,160],[51.3,150],[49.9,80],[49.2,55],[49.9,50],[50.4,28],[51.2,11],[50.5,1]];
const rm_Ca_self=[[-1,2],[-1.7,.7],[-1.3,.7],[-.9,.7],[-.5,.7],[-.1,.7],[.3,.7],[.7,.7],[1.1,.7],[1.4,.7]];
const rm_Ca_zero=[[8.7,.64],[9,.64],[9.3,.64],[9.6,.64],[9.9,.64],[10.2,.64],[10.5,.64],[10.8,.64],[11.1,.64],[18.8,.64],[19.1,.64],[19.4,.64],[19.7,.64],[20,.64],[20.3,.64],[20.6,.64],[20.9,.64],[28.9,.64],[29.2,.64],[29.5,.64],[29.8,.64],[30.1,.64],[30.4,.64],[30.7,.64],[31,.64],[38.8,.64],[39.1,.64],[39.4,.64],[39.7,.64],[40,.64],[40.3,.64],[40.6,.64],[40.9,.64],[48.8,.64],[49.1,.64],[49.4,.64],[49.7,.64],[50,.64],[50.3,.64],[50.6,.64],[50.9,.64]];
const rm_Ec_self=[[1.8,.7]];
const rm_Ec_zero=[[11.4,.64],[21.3,.64],[51.3,.64]];
const rmLayers=[["Se","intra",rm_Se],["Lm","intra",rm_Lm],["Ec","intra",rm_Ec],["Ec","intra",rm_Ec_zero],["Ec","self",rm_Ec_self],["Ca","intra",rm_Ca_zero],["Ca","intra",rm_Ca],["Ca","self",rm_Ca_self]];
const rmLines=[["black",3]];

const sup6="6";
const panels=[
 {title:"contig count",x0:35,x1:256,y0:32,y1:254,yd:[-315,6900],yt:[0,2000,4000,6000],ym:[1000,3000,5000],xd:[-3.93,54],f:d=>d,layers:contigLayers,lines:contigLines,ty:20},
 {title:"assembly length",x0:321,x1:521.7,y0:32,y1:254,yd:[1.12,11.37],yt:[3,6,9],ym:[1.5,4.5,7.5,10.5],xd:[-4.05,54],sci:true,layers:asmLayers,lines:asmLines,ty:20},
 {title:"N50 [Mbp]",x0:559.3,x1:788.7,y0:32,y1:254,yd:[-.0219,.5016],yt:[0,.1,.2,.3,.4,.5],ym:[.05,.15,.25,.35,.45],xd:[-3.88,54],f:d3.format(".1f"),layers:n50Layers,lines:n50Lines,ty:20},
 {title:"MLST duplicated alleles",x0:17.7,x1:256,y0:331,y1:554,yd:[-.357,7.38],yt:[0,2,4,6],ym:[1,3,5,7],xd:[-4,54],f:d=>d,layers:mlstLayers,lines:mlstLines,ty:319},
 {title:"duplicated BUSCOs",x0:292.3,x1:521.7,y0:331,y1:554,yd:[-.039,.805],yt:[0,.2,.4,.6,.8],ym:[.1,.3,.5,.7],xd:[-4.16,54],f:d3.format(".1f"),layers:dupLayers,lines:dupLines,ty:319},
 {title:"unique BUSCOs",x0:564.7,x1:788.7,y0:331,y1:554,yd:[.098,1.047],yt:[.25,.5,.75,1],ym:[.125,.375,.625,.875],xd:[-4,54.2],f:d3.format(".2f"),layers:uniqLayers,lines:uniqLines,ty:319},
 {title:"fraction majority genus",sub:"read-based",x0:26.7,x1:256,y0:653,y1:854,yd:[.4644,1.028],yt:[.5,.6,.7,.8,.9,1],ym:[.55,.65,.75,.85,.95],xd:[-3.87,54],f:d3.format(".1f"),layers:readLayers,lines:readLines,ty:620},
 {title:"fraction majority genus",sub:"contig-based",x0:292.3,x1:521.7,y0:653,y1:854,yd:[.4225,1.03],yt:[.6,.8,1],ym:[.5,.7,.9],xd:[-4.16,54],f:d3.format(".1f"),layers:contigfracLayers,lines:contigfracLines,ty:620},
 {title:"duplication ratio",x0:559.3,x1:788.7,y0:631,y1:854,yd:[.962,1.751],yt:[1,1.2,1.4,1.6],ym:[1.1,1.3,1.5,1.7],xd:[-3.88,54],f:d3.format(".1f"),layers:ratioLayers,lines:ratioLines,ty:619},
 {title:"ConFindr SNVs, cgmlst",log:true,x0:35,x1:256,y0:931,y1:1153.7,yd:[.692,2490],yt:[1,10,100,1000],ym:[3.162,31.62,316.2],xd:[-3.93,54],f:d=>d,layers:cgLayers,lines:cgLines,ty:918},
 {title:"ConFindr SNVs, rmlst",log:true,x0:301.7,x1:521.7,y0:931,y1:1153.7,yd:[.705,1282],yt:[1,10,100,1000],ym:[3.162,31.62,316.2],xd:[-3.9,54],f:d=>d,layers:rmLayers,lines:rmLines,ty:918}
];

const FONT="'Liberation Sans',Arial,sans-serif";
const svg=d3.select("#c");
const shape={inter:d3.symbolCircle,intra:d3.symbolTriangle,self:d3.symbolSquare};
const area={inter:36,intra:34,self:33};
const sym=t=>d3.symbol().type(shape[t]).size(area[t])();

panels.forEach((p,i)=>{
  const x=d3.scaleLinear().domain(p.xd).range([p.x0,p.x1]);
  const y=(p.log?d3.scaleLog():d3.scaleLinear()).domain(p.yd).range([p.y1,p.y0]);
  const g=svg.append("g");
  g.append("rect").attr("x",p.x0).attr("y",p.y0).attr("width",p.x1-p.x0).attr("height",p.y1-p.y0).attr("fill","#EBEBEB");
  const clipId="clip"+i;
  g.append("clipPath").attr("id",clipId).append("rect").attr("x",p.x0).attr("y",p.y0).attr("width",p.x1-p.x0).attr("height",p.y1-p.y0);
  const inner=g.append("g").attr("clip-path",`url(#${clipId})`);
  const xm=[5,15,25,35,45];
  inner.selectAll(".ymin").data(p.ym).join("line").attr("x1",p.x0).attr("x2",p.x1).attr("y1",d=>y(d)).attr("y2",d=>y(d)).attr("stroke","#fff").attr("stroke-width",.55);
  inner.selectAll(".xmin").data(xm).join("line").attr("y1",p.y0).attr("y2",p.y1).attr("x1",d=>x(d)).attr("x2",d=>x(d)).attr("stroke","#fff").attr("stroke-width",.55);
  inner.selectAll(".ymaj").data(p.yt).join("line").attr("x1",p.x0).attr("x2",p.x1).attr("y1",d=>y(d)).attr("y2",d=>y(d)).attr("stroke","#fff").attr("stroke-width",1.07);
  inner.selectAll(".xmaj").data(mixingTicks).join("line").attr("y1",p.y0).attr("y2",p.y1).attr("x1",d=>x(d)).attr("x2",d=>x(d)).attr("stroke","#fff").attr("stroke-width",1.07);
  p.layers.forEach(([s,t,pts])=>{
    inner.append("g").selectAll("path").data(pts).join("path").attr("d",sym(t))
      .attr("transform",d=>`translate(${x(d[0])},${y(d[1])})`).attr("fill",speciesColor[s]);
  });
  p.lines.forEach(([s,v])=>{
    inner.append("line").attr("x1",p.x0).attr("x2",p.x1).attr("y1",y(v)).attr("y2",y(v))
      .attr("stroke",s==="black"?"#000":speciesColor[s]).attr("stroke-width",1.3).attr("stroke-dasharray","6.5 4");
  });
  const ax=g.append("g").attr("transform",`translate(0,${p.y1})`).call(d3.axisBottom(x).tickValues(mixingTicks).tickSize(3.7).tickPadding(2.2).tickFormat(d=>d));
  const ay=g.append("g").attr("transform",`translate(${p.x0},0)`).call(d3.axisLeft(y).tickValues(p.yt).tickSize(3.7).tickPadding(2.2).tickFormat(p.sci?"":p.f));
  [ax,ay].forEach(a=>{a.select(".domain").remove();a.selectAll("line").attr("stroke","#333").attr("stroke-width",1.07);
    a.selectAll("text").attr("fill","#4D4D4D").style("font-family",FONT).style("font-size","11.73px");});
  if(p.sci){
    const texts=ay.selectAll("text").text(null);
    texts.append("tspan").text(d=>d.toFixed(1)+" x 10");
    texts.append("tspan").text(sup6).attr("dy","-0.4em").style("font-size","8.2px");
  }
  g.append("text").attr("x",(p.x0+p.x1)/2).attr("y",p.ty).attr("text-anchor","middle").attr("fill","#000").style("font-family",FONT).style("font-size","17.6px").text(p.title);
  if(p.sub) g.append("text").attr("x",(p.x0+p.x1)/2).attr("y",p.ty+22.5).attr("text-anchor","middle").attr("fill","#000").style("font-family",FONT).style("font-size","14.67px").text(p.sub);
  g.append("text").attr("x",(p.x0+p.x1)/2).attr("y",p.y1+33.5).attr("text-anchor","middle").attr("fill","#000").style("font-family",FONT).style("font-size","14.67px").text("mixing ratio");
});

// legends
function legend(title,yTitle,items,yKeys,draw){
  const g=svg.append("g");
  g.append("text").attr("x",635).attr("y",yTitle).attr("fill","#000").style("font-family",FONT).style("font-size","14.67px").text(title);
  g.append("rect").attr("x",635).attr("y",yKeys).attr("width",24).attr("height",24.4*items.length).attr("fill","#F2F2F2");
  items.forEach((it,k)=>{
    const cy=yKeys+12.2+24.4*k;
    draw(g,it,646.9,cy);
    g.append("text").attr("x",666.7).attr("y",cy+4.1).attr("fill","#000").style("font-family",FONT).style("font-size","11.73px").text(it);
  });
}
legend("type",938,types,946.7,(g,t,cx,cy)=>g.append("path").attr("d",sym(t)).attr("transform",`translate(${cx},${cy})`).attr("fill","#000"));
legend("species",1064,species,1073.3,(g,s,cx,cy)=>g.append("path").attr("d",sym("inter")).attr("transform",`translate(${cx},${cy})`).attr("fill",speciesColor[s]));
</script></body></html>
